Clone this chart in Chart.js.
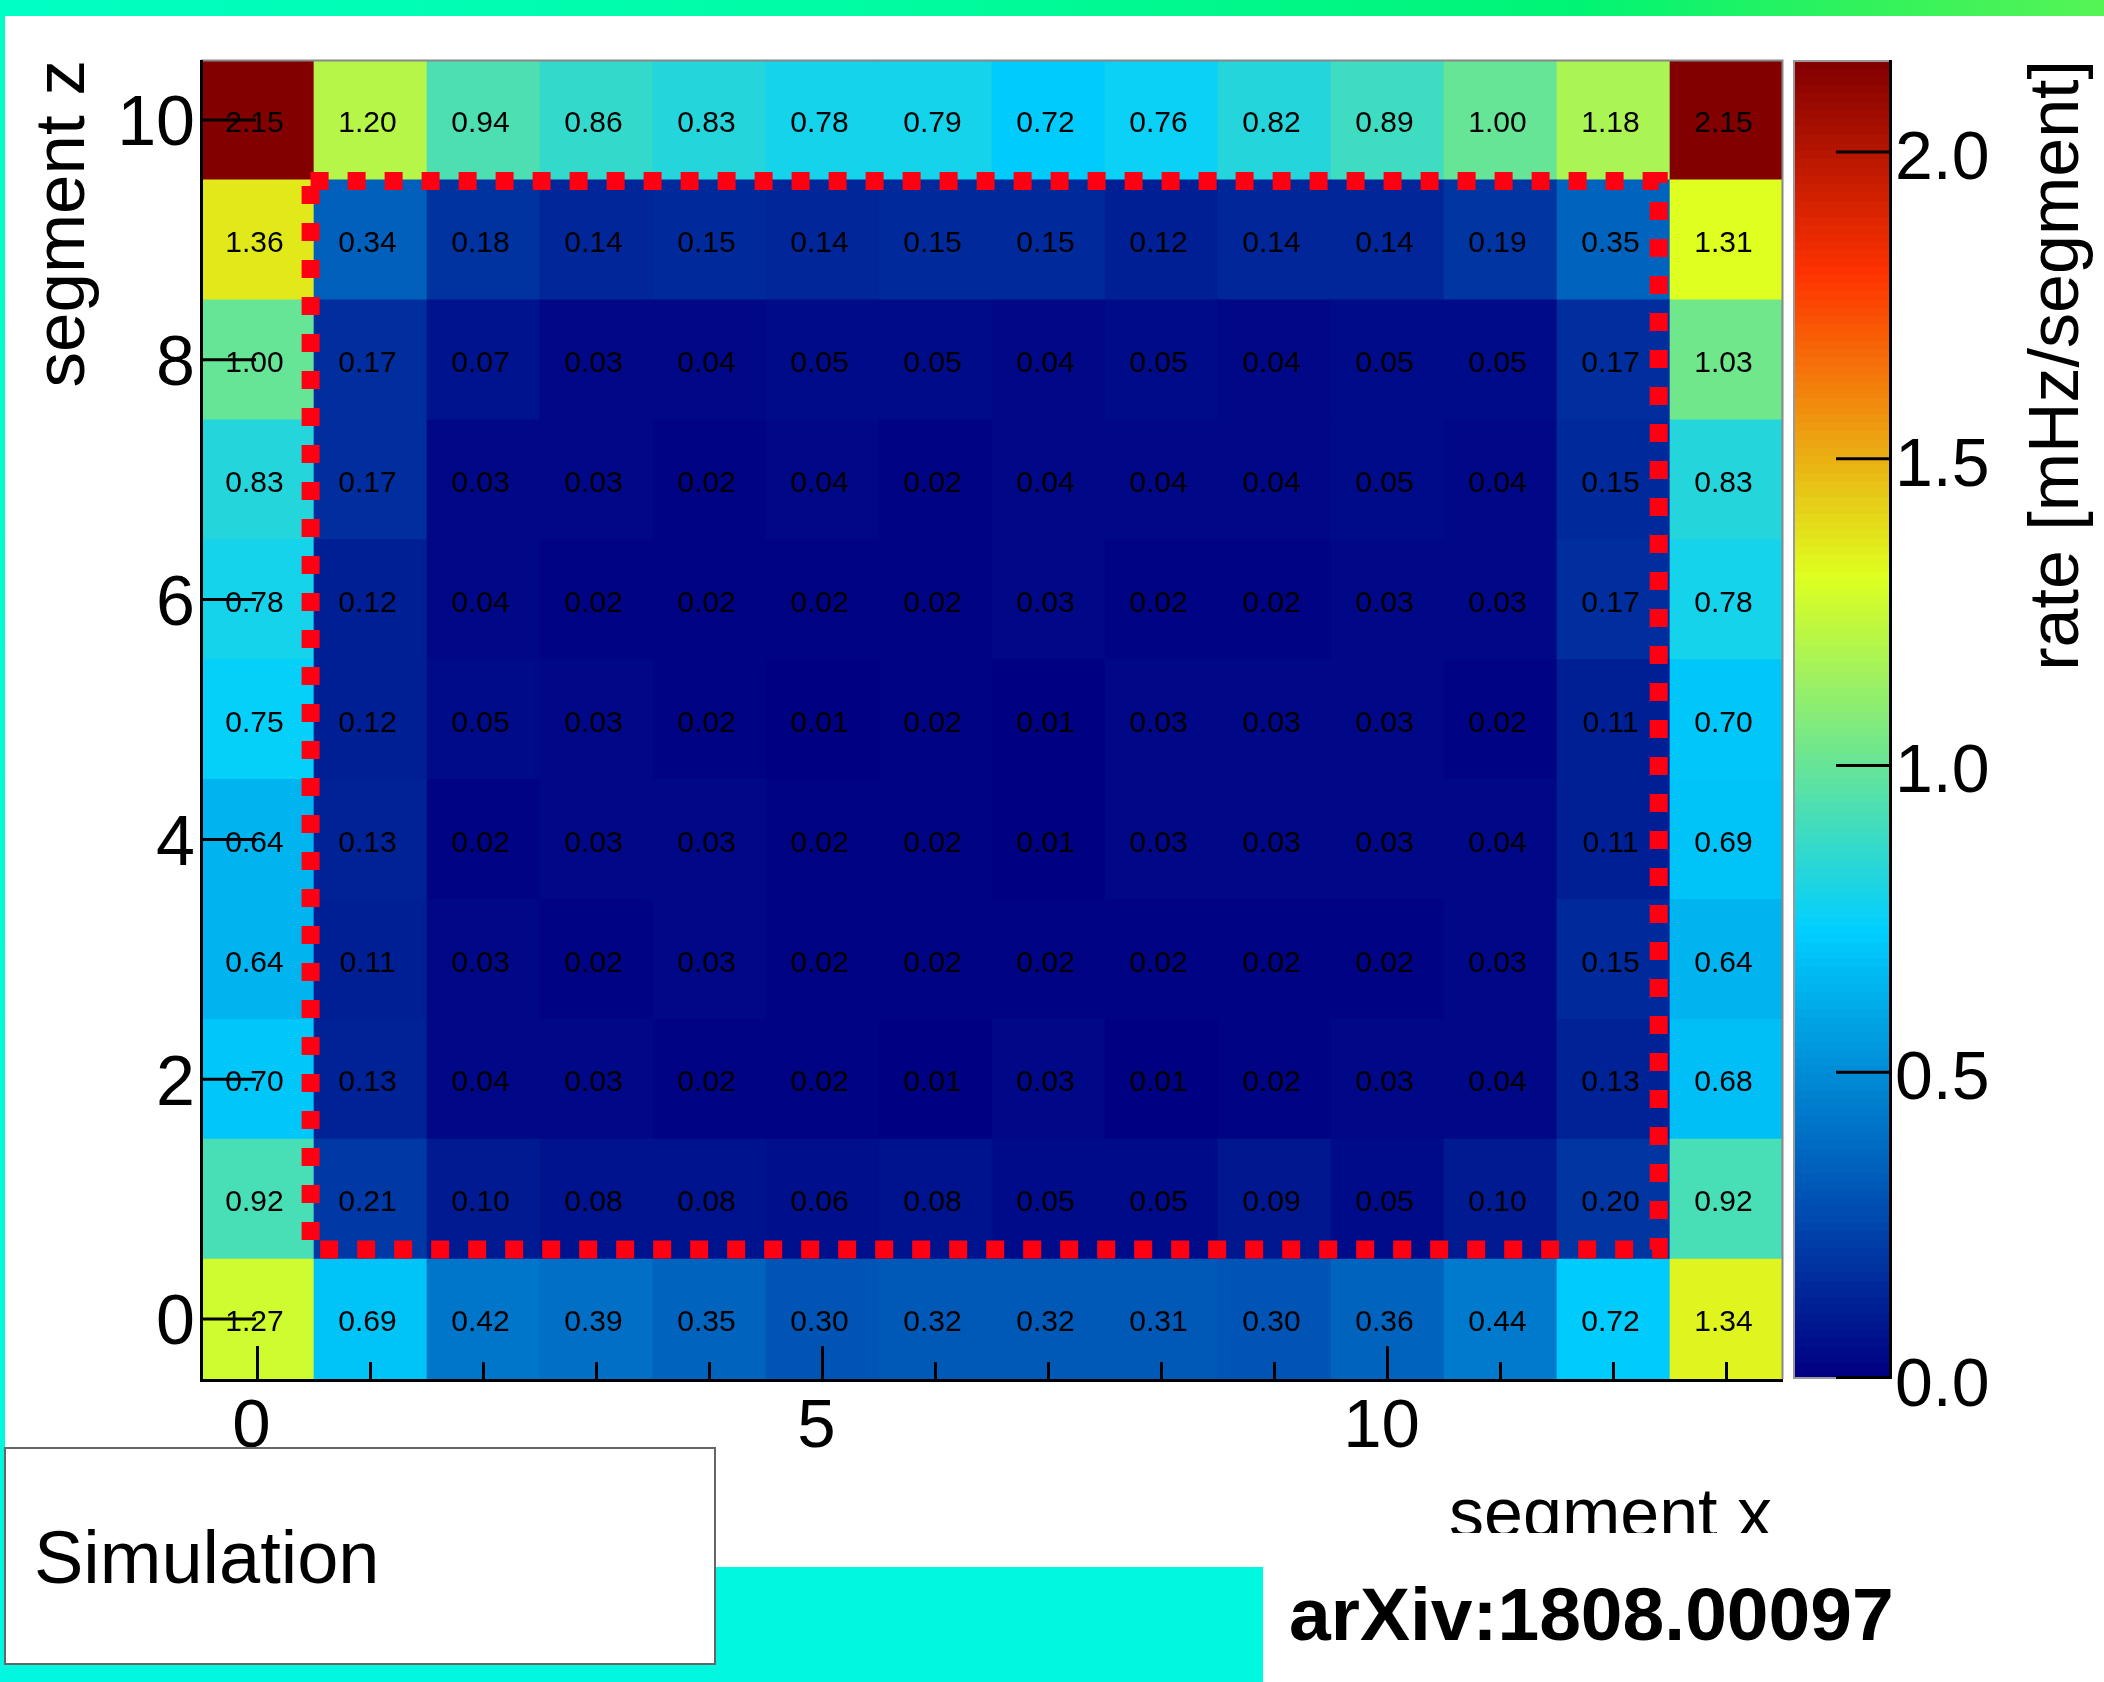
<!DOCTYPE html>
<html>
<head>
<meta charset="utf-8">
<title>rate per segment</title>
<script src="https://cdn.jsdelivr.net/npm/chart.js@4.4.0/dist/chart.umd.min.js"></script>
<style>
  html, body { margin: 0; padding: 0; background: #fff; }
  #page { position: relative; width: 2104px; height: 1682px; overflow: hidden; background: #fff;
          font-family: 'Liberation Sans', Arial, Helvetica, sans-serif; color: #000; }
  #topBand { position: absolute; left: 0; top: 0; width: 2104px; height: 16px;
             background: linear-gradient(to right, #00ffc4 0%, #00fca4 40%, #00f474 75%, #30f25c 88%, #55f455 100%); }
  #leftBand { position: absolute; left: 0; top: 0; width: 5px; height: 1682px;
              background: linear-gradient(#00ffc4, #00f8e0); }
  #bottomBand { position: absolute; left: 0; top: 1567px; width: 1263px; height: 115px; background: #00f7e0; }
  canvas { position: absolute; top: 0; }
  #heat { left: 0; }
  #scale { left: 1793px; }
  #simBox { position: absolute; left: 4px; top: 1447px; width: 712px; height: 218px; box-sizing: border-box;
            background: #fff; border: 2px solid #666; }
  #simText { position: absolute; left: 34px; top: 1521px; font-size: 74px; line-height: 74px; white-space: nowrap; }
  #arxiv { position: absolute; left: 1289px; top: 1577px; font-size: 75px; line-height: 75px; font-weight: bold; white-space: nowrap; }
</style>
</head>
<body>
<div id="page">
  <div id="topBand"></div>
  <div id="leftBand"></div>
  <div id="bottomBand"></div>
  <canvas id="heat" width="2104" height="1682"></canvas>
  <canvas id="scale" width="311" height="1682"></canvas>
  <div id="simBox"></div>
  <div id="simText">Simulation</div>
  <div id="arxiv">arXiv:1808.00097</div>
</div>
<script>
// segments
const segX = [0, 1, 2, 3, 4, 5, 6, 7, 8, 9, 10, 11, 12, 13];
const segZ = [0, 1, 2, 3, 4, 5, 6, 7, 8, 9, 10];

// rate [mHz/segment], one row per segment z
const rateZ0  = [1.27, 0.69, 0.42, 0.39, 0.35, 0.30, 0.32, 0.32, 0.31, 0.30, 0.36, 0.44, 0.72, 1.34];
const rateZ1  = [0.92, 0.21, 0.10, 0.08, 0.08, 0.06, 0.08, 0.05, 0.05, 0.09, 0.05, 0.10, 0.20, 0.92];
const rateZ2  = [0.70, 0.13, 0.04, 0.03, 0.02, 0.02, 0.01, 0.03, 0.01, 0.02, 0.03, 0.04, 0.13, 0.68];
const rateZ3  = [0.64, 0.11, 0.03, 0.02, 0.03, 0.02, 0.02, 0.02, 0.02, 0.02, 0.02, 0.03, 0.15, 0.64];
const rateZ4  = [0.64, 0.13, 0.02, 0.03, 0.03, 0.02, 0.02, 0.01, 0.03, 0.03, 0.03, 0.04, 0.11, 0.69];
const rateZ5  = [0.75, 0.12, 0.05, 0.03, 0.02, 0.01, 0.02, 0.01, 0.03, 0.03, 0.03, 0.02, 0.11, 0.70];
const rateZ6  = [0.78, 0.12, 0.04, 0.02, 0.02, 0.02, 0.02, 0.03, 0.02, 0.02, 0.03, 0.03, 0.17, 0.78];
const rateZ7  = [0.83, 0.17, 0.03, 0.03, 0.02, 0.04, 0.02, 0.04, 0.04, 0.04, 0.05, 0.04, 0.15, 0.83];
const rateZ8  = [1.00, 0.17, 0.07, 0.03, 0.04, 0.05, 0.05, 0.04, 0.05, 0.04, 0.05, 0.05, 0.17, 1.03];
const rateZ9  = [1.36, 0.34, 0.18, 0.14, 0.15, 0.14, 0.15, 0.15, 0.12, 0.14, 0.14, 0.19, 0.35, 1.31];
const rateZ10 = [2.15, 1.20, 0.94, 0.86, 0.83, 0.78, 0.79, 0.72, 0.76, 0.82, 0.89, 1.00, 1.18, 2.15];
const rateRows = [rateZ0, rateZ1, rateZ2, rateZ3, rateZ4, rateZ5, rateZ6, rateZ7, rateZ8, rateZ9, rateZ10];

// inner region (dashed box), in segment units
const regionX = [0.47, 12.4];
const regionZ = [0.58, 9.49];

// tick labels
const xMajorTicks = [0, 5, 10];
const zTicks = [0, 2, 4, 6, 8, 10];
const rateTicks = [0, 0.5, 1.0, 1.5, 2.0];
const rateMax = 2.15;

// ROOT style rainbow palette
const paletteStops = [0.00, 0.34, 0.61, 0.84, 1.00];
const paletteRed   = [0.00, 0.00, 0.87, 1.00, 0.51];
const paletteGreen = [0.00, 0.81, 1.00, 0.20, 0.00];
const paletteBlue  = [0.51, 1.00, 0.12, 0.00, 0.00];
const nContours = 160;

Chart.defaults.font.family = "'Liberation Sans', Arial, Helvetica, sans-serif";
Chart.defaults.color = '#000';

function paletteColor(t) {
    t = Math.min(1, Math.max(0, t));
    let k = 1;
    while (k < paletteStops.length - 1 && t > paletteStops[k]) k++;
    const f = (t - paletteStops[k - 1]) / (paletteStops[k] - paletteStops[k - 1]);
    const c = arr => Math.round(255 * (arr[k - 1] + f * (arr[k] - arr[k - 1])));
    return 'rgb(' + c(paletteRed) + ',' + c(paletteGreen) + ',' + c(paletteBlue) + ')';
}

function rateColor(v) {
    let idx = Math.floor(v / rateMax * nContours);
    idx = Math.min(nContours - 1, Math.max(0, idx));
    return paletteColor(idx / (nContours - 1));
}

const cellSets = segZ.map((z, zi) => ({
    type: 'bar',
    label: 'z ' + z,
    data: segX.map(x => ({x: x, y: [z - 0.5, z + 0.5]})),
    backgroundColor: rateRows[zi].map(rateColor),
    borderWidth: 0,
    grouped: false,
    barPercentage: 1,
    categoryPercentage: 1,
    order: 1
}));

const boxSet = {
    type: 'line',
    label: 'region',
    data: [
        {x: regionX[0], y: regionZ[1]},
        {x: regionX[1], y: regionZ[1]},
        {x: regionX[1], y: regionZ[0]},
        {x: regionX[0], y: regionZ[0]},
        {x: regionX[0], y: regionZ[1]}
    ],
    borderColor: '#ff0012',
    borderWidth: 18,
    borderDash: [18, 19],
    borderCapStyle: 'butt',
    borderJoinStyle: 'miter',
    pointRadius: 0,
    fill: false,
    tension: 0,
    order: 0
};

const heatPlugin = {
    id: 'heatLabels',
    afterDatasetsDraw(chart) {
        const ctx = chart.ctx;
        ctx.save();
        ctx.font = "30px 'Liberation Sans', Arial, sans-serif";
        ctx.fillStyle = '#000';
        ctx.textAlign = 'center';
        ctx.textBaseline = 'middle';
        segZ.forEach((z, zi) => {
            const meta = chart.getDatasetMeta(zi);
            meta.data.forEach((bar, xi) => {
                const p = bar.getCenterPoint();
                ctx.fillText(rateRows[zi][xi].toFixed(2), p.x - 3, p.y + 4);
            });
        });
        ctx.restore();
    },
    afterDraw(chart) {
        const ctx = chart.ctx;
        const {left, right, top, bottom} = chart.chartArea;
        const xs = chart.scales.x, ys = chart.scales.y;
        ctx.save();
        // frame
        ctx.strokeStyle = '#888';
        ctx.lineWidth = 2;
        ctx.beginPath();
        ctx.moveTo(left, top + 0.5);
        ctx.lineTo(right - 0.5, top + 0.5);
        ctx.lineTo(right - 0.5, bottom);
        ctx.stroke();
        ctx.strokeStyle = '#000';
        ctx.lineWidth = 3;
        ctx.beginPath();
        ctx.moveTo(left + 0.5, top);
        ctx.lineTo(left + 0.5, bottom + 1.5);
        ctx.lineTo(right, bottom + 1.5);
        ctx.stroke();
        // ticks
        ctx.beginPath();
        segX.forEach(v => {
            const px = xs.getPixelForValue(v);
            const len = xMajorTicks.includes(v) ? 33 : 17;
            ctx.moveTo(px, bottom);
            ctx.lineTo(px, bottom - len);
        });
        zTicks.forEach(v => {
            const py = ys.getPixelForValue(v);
            ctx.moveTo(left, py);
            ctx.lineTo(left + 55, py);
        });
        ctx.stroke();
        // x axis title, cut at the bottom as in the original
        ctx.beginPath();
        ctx.rect(right - 420, bottom + 80, 420, 1533 - bottom - 80);
        ctx.clip();
        ctx.font = "70px 'Liberation Sans', Arial, sans-serif";
        ctx.fillStyle = '#000';
        ctx.textAlign = 'right';
        ctx.textBaseline = 'alphabetic';
        ctx.fillText('segment x', right - 11, 1537);
        ctx.restore();
    }
};

new Chart(document.getElementById('heat'), {
    type: 'bar',
    data: { datasets: cellSets.concat([boxSet]) },
    options: {
        responsive: false,
        devicePixelRatio: 1,
        animation: false,
        layout: { padding: { left: 0, top: 60, right: 321, bottom: 0 } },
        plugins: { legend: { display: false }, tooltip: { enabled: false } },
        scales: {
            x: {
                type: 'linear', min: -0.5, max: 13.5, offset: false,
                grid: { display: false }, border: { display: false },
                afterBuildTicks: s => { s.ticks = xMajorTicks.map(v => ({value: v})); },
                afterFit: s => { s.height = 303; },
                ticks: { font: { size: 69 }, padding: 0, labelOffset: -6, maxRotation: 0, autoSkip: false }
            },
            y: {
                type: 'linear', min: -0.5, max: 10.5,
                grid: { display: false }, border: { display: false },
                afterBuildTicks: s => { s.ticks = zTicks.map(v => ({value: v})); },
                afterFit: s => { s.width = 201; },
                ticks: { font: { size: 70 }, padding: -2, labelOffset: 6, autoSkip: false },
                title: { display: true, text: 'segment z', align: 'end', font: { size: 71 },
                         padding: { top: 22, bottom: 0 } }
            }
        }
    },
    plugins: [heatPlugin]
});

const colorbarPlugin = {
    id: 'colorbar',
    afterDraw(chart) {
        const ctx = chart.ctx;
        const {left, right, top, bottom} = chart.chartArea;
        const ys = chart.scales.y;
        ctx.save();
        for (let i = 0; i < nContours; i++) {
            const y1 = ys.getPixelForValue(rateMax * (i + 1) / nContours);
            const y0 = ys.getPixelForValue(rateMax * i / nContours);
            ctx.fillStyle = paletteColor(i / (nContours - 1));
            ctx.fillRect(left, Math.floor(y1), right - left, Math.ceil(y0) - Math.floor(y1));
        }
        ctx.strokeStyle = '#999';
        ctx.lineWidth = 2;
        ctx.strokeRect(left + 1, top + 1, right - left - 2, bottom - top - 2);
        ctx.strokeStyle = '#000';
        ctx.lineWidth = 3;
        ctx.beginPath();
        ctx.moveTo(right - 1.5, top);
        ctx.lineTo(right - 1.5, bottom);
        rateTicks.forEach(v => {
            const py = Math.min(bottom - 1.5, ys.getPixelForValue(v));
            ctx.moveTo(right, py);
            ctx.lineTo(right - 56, py);
        });
        ctx.stroke();
        // z axis title
        ctx.translate(285, top);
        ctx.rotate(-Math.PI / 2);
        ctx.font = "70px 'Liberation Sans', Arial, sans-serif";
        ctx.fillStyle = '#000';
        ctx.textAlign = 'right';
        ctx.textBaseline = 'alphabetic';
        ctx.fillText('rate [mHz/segment]', 0, 0);
        ctx.restore();
    }
};

new Chart(document.getElementById('scale'), {
    type: 'bar',
    data: { labels: [], datasets: [] },
    options: {
        responsive: false,
        devicePixelRatio: 1,
        animation: false,
        layout: { padding: { left: 0, top: 60, right: 0, bottom: 303 } },
        plugins: { legend: { display: false }, tooltip: { enabled: false } },
        scales: {
            x: { display: false },
            y: {
                position: 'right', type: 'linear', min: 0, max: rateMax,
                grid: { display: false }, border: { display: false },
                afterBuildTicks: s => { s.ticks = rateTicks.map(v => ({value: v})); },
                afterFit: s => { s.width = 212; },
                ticks: { font: { size: 68 }, padding: -5, labelOffset: 8, callback: v => v.toFixed(1) }
            }
        }
    },
    plugins: [colorbarPlugin]
});
</script>
</body>
</html>
